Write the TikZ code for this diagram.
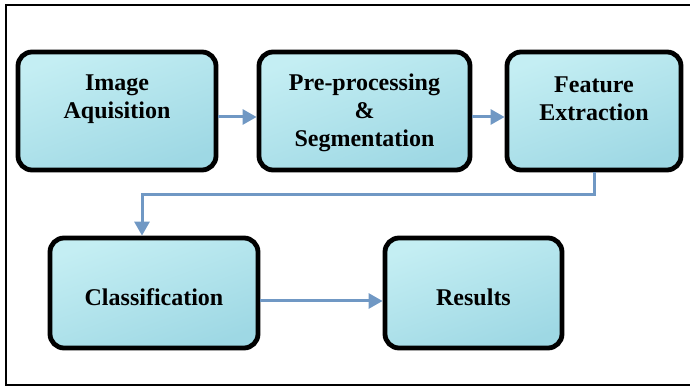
\documentclass[tikz,border=0pt]{standalone}
\usepackage{fontspec}
\setmainfont{Liberation Serif}
\usepackage{xcolor}
\definecolor{Col1}{RGB}{196,238,243}
\definecolor{Col2}{RGB}{158,216,228}
\definecolor{Col3}{RGB}{112,152,196}
\usepackage{tikz}
\usetikzlibrary{arrows.meta}
\tikzstyle{Box}=[rectangle,rounded corners=7pt,draw=black,line width=2.4pt,
top color=Col1,bottom color=Col2,shading angle=20]
\tikzstyle{Txt}=[align=center,font=\bfseries\fontsize{12}{14}\selectfont]
\tikzstyle{Edge}=[draw=Col3,line width=1.5pt,
-{Triangle[length=7pt,width=7.5pt]}]
\tikzstyle{Frame}=[draw=black,line width=1pt]

\begin{document}
\begin{tikzpicture}[x=0.5pt,y=-0.5pt]
            \useasboundingbox(0,0)rectangle(690,389);
            \draw[Frame](6,5)rectangle(696,385);
            \node[Box,minimum width=99pt,minimum height=59pt](acq)at(117,111){};
            \node[Box,minimum width=105.5pt,minimum height=59pt](pre)at(364.5,111){};
            \node[Box,minimum width=87pt,minimum height=59pt](feat)at(594,111){};
            \node[Box,minimum width=104pt,minimum height=55pt](clas)at(154,293){};
            \node[Box,minimum width=88.5pt,minimum height=55pt](res)at(473.5,293){};
            \node[Txt](acqT)at([yshift=6pt]acq){Image\\Aquisition};
            \node[Txt](preT)at([yshift=-1pt]pre){Pre-processing\\\&\\Segmentation};
            \node[Txt](featT)at([yshift=6pt]feat){Feature\\Extraction};
            \node[Txt](clasT)at([yshift=-2pt]clas){Classification};
            \node[Txt](resT)at([yshift=-2pt]res){Results};
            \coordinate(bend)at(142,195);
            \draw[Edge]([yshift=-3pt]acq.east)--([yshift=-3pt]pre.west);
            \draw[Edge]([yshift=-3pt]pre.east)--([yshift=-3pt]feat.west);
            \draw[Edge](feat.south)|-(bend)--(bend|-clas.north);
            \draw[Edge]([yshift=-4pt]clas.east)--([yshift=-4pt]res.west);
        \end{tikzpicture}
\end{document}
